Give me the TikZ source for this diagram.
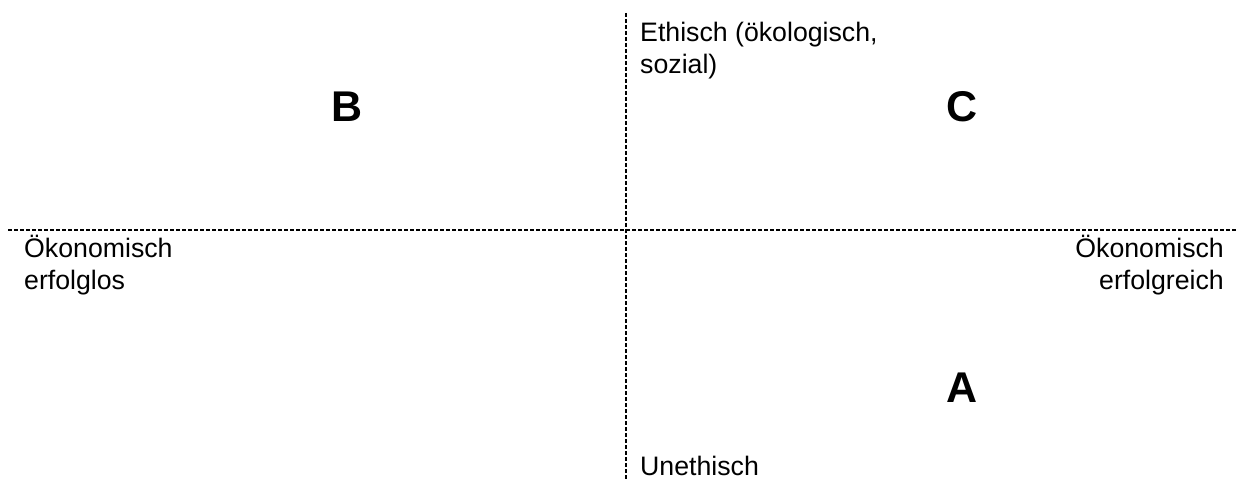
\documentclass[tikz,border=0pt]{standalone}
\usepackage{fontspec}
\setmainfont{Liberation Sans}
\begin{document}
\begin{tikzpicture}[x=1pt,y=-1pt,
  axis/.style={line width=1.1pt, dash pattern=on 4pt off 2pt},
  lbl/.style={inner sep=0pt, font=\fontsize{26.7}{32}\selectfont},
  quad/.style={inner sep=0pt, font=\fontsize{43}{46}\selectfont\bfseries}]
\useasboundingbox (0,0) rectangle (1236,481);
\coordinate (vtop) at (626,13);
\coordinate (vbot) at (626,481);
\coordinate (hl) at (8,230);
\coordinate (hr) at (1236,230);
\draw[axis] (vtop) -- (vbot);
\draw[axis] (hl) -- (hr);
\node[lbl, anchor=base west] (eth1) at (640,42) {Ethisch (ökologisch,};
\node[lbl, anchor=base west] (eth2) at (640,74) {sozial)};
\node[lbl, anchor=base west] (uneth) at (640,475) {Unethisch};
\node[lbl, anchor=base west] (erfl1) at (24,257) {Ökonomisch};
\node[lbl, anchor=base west] (erfl2) at (24,289) {erfolglos};
\node[lbl, anchor=base east] (erfr1) at (1224,257) {Ökonomisch};
\node[lbl, anchor=base east] (erfr2) at (1224,289) {erfolgreich};
\node[quad] (B) at (347,107) {B};
\node[quad] (C) at (962,107) {C};
\node[quad] (A) at (962,388) {A};
\end{tikzpicture}
\end{document}
